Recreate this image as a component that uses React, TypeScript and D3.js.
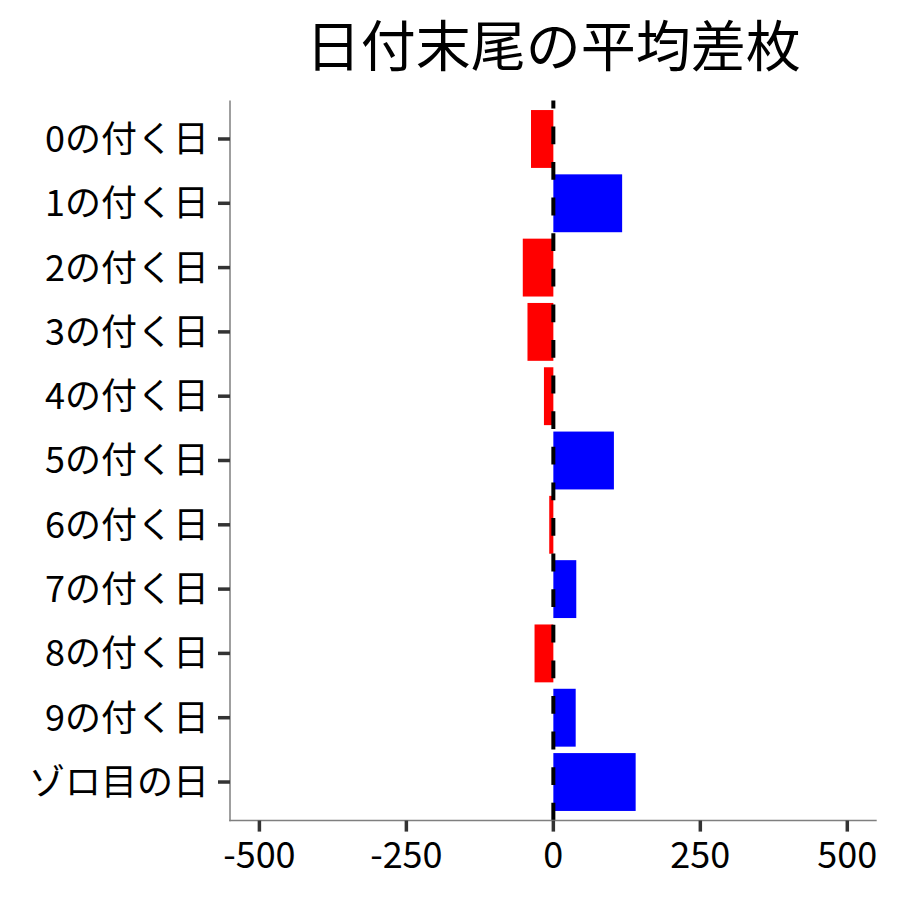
import React from "react";
import * as d3 from "d3";

const categories = [
  "0の付く日",
  "1の付く日",
  "2の付く日",
  "3の付く日",
  "4の付く日",
  "5の付く日",
  "6の付く日",
  "7の付く日",
  "8の付く日",
  "9の付く日",
  "ゾロ目の日",
];
const avgDiff = [-38, 117, -52, -44, -16, 103, -7, 39, -32, 38, 140];
const xTicks = [-500, -250, 0, 250, 500];
const title = "日付末尾の平均差枚";

const W = 900;
const H = 900;
const left = 230;
const right = 876.7;
const top = 100.4;
const bottom = 820.6;
const font = "'Noto Sans CJK JP', 'Noto Sans', sans-serif";

const App = () => {
  const x = d3.scaleLinear().domain([-550, 550]).range([left, right]);
  // categories centred on points, 0.6 step of padding at each end
  const y = d3.scalePoint().domain(categories).range([top, bottom]).padding(0.6);
  const barH = y.step() * 0.9;
  const yc = (c: string) => y(c) || 0;

  return (
    <svg
      width={W}
      height={H}
      style={{ position: "absolute", left: 0, top: 0, background: "#fff" }}
    >
      <text
        x={(left + right) / 2}
        y={66}
        textAnchor="middle"
        fontFamily={font}
        fontSize={55}
        fill="#000"
      >
        {title}
      </text>

      {categories.map((c, i) => {
        const v = avgDiff[i];
        return (
          <rect
            key={c}
            x={x(Math.min(0, v))}
            y={yc(c) - barH / 2}
            width={Math.abs(x(v) - x(0))}
            height={barH}
            fill={v < 0 ? "#FF0000" : "#0000FF"}
          />
        );
      })}

      <line
        x1={x(0)}
        x2={x(0)}
        y1={bottom}
        y2={top}
        stroke="#000"
        strokeWidth={4}
        strokeDasharray="17.8 17.8"
      />

      {/* y axis */}
      <line x1={left} x2={left} y1={top} y2={bottom + 0.75} stroke="#7f7f7f" strokeWidth={1.5} />
      {categories.map((c) => (
        <g key={c}>
          <line x1={218} x2={left} y1={yc(c)} y2={yc(c)} stroke="#333" strokeWidth={3.5} />
          <text
            x={209}
            y={yc(c)}
            dy="0.36em"
            textAnchor="end"
            fontFamily={font}
            fontSize={36}
            fill="#000"
          >
            {c}
          </text>
        </g>
      ))}

      {/* x axis */}
      <line x1={left - 0.75} x2={right} y1={bottom} y2={bottom} stroke="#7f7f7f" strokeWidth={1.5} />
      {xTicks.map((t) => (
        <g key={t}>
          <line x1={x(t)} x2={x(t)} y1={bottom} y2={bottom + 11} stroke="#333" strokeWidth={3.5} />
          <text
            x={x(t)}
            y={868}
            textAnchor="middle"
            fontFamily={font}
            fontSize={36}
            fill="#000"
          >
            {t}
          </text>
        </g>
      ))}
    </svg>
  );
};

export default App;
